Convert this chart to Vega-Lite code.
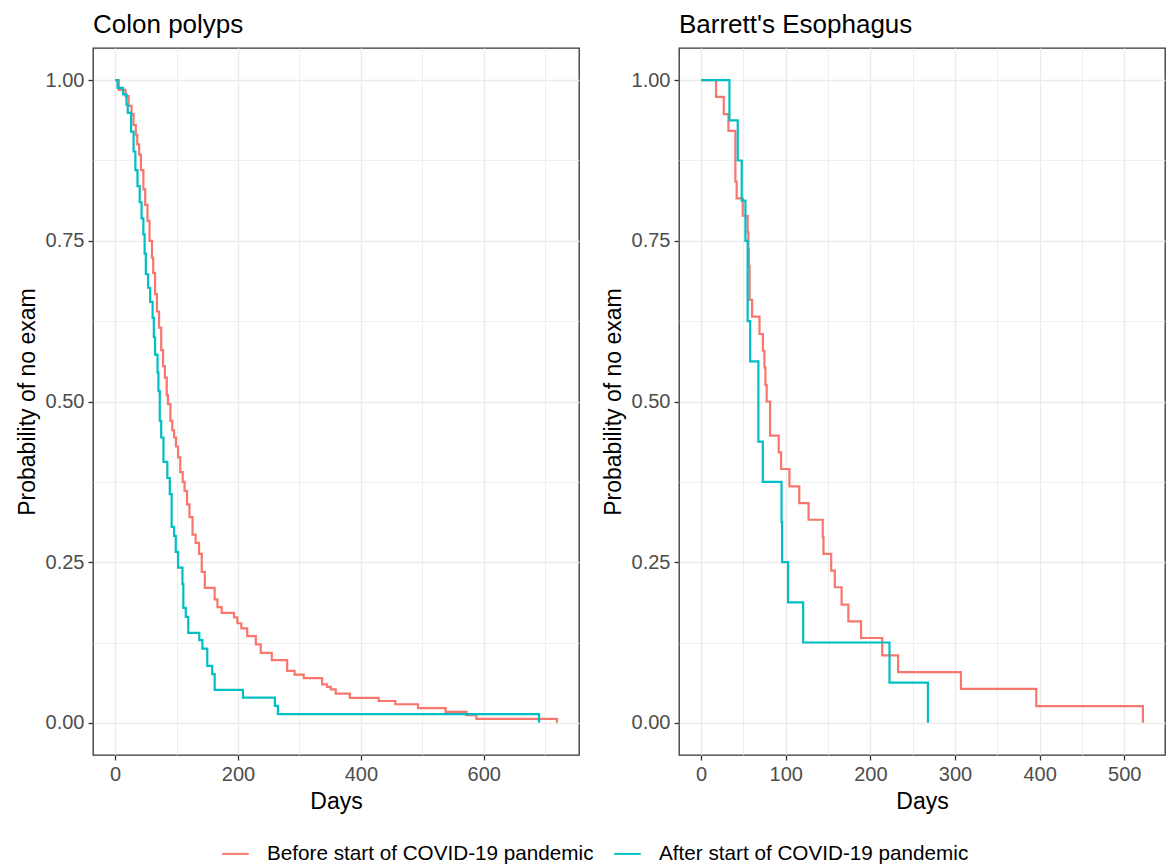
{
  "$schema": "https://vega.github.io/schema/vega-lite/v6.json",
  "background": "white",
  "padding": {"left": 15, "top": 11, "right": 2, "bottom": 4},
  "datasets": {
    "colon": [
      {"group": "Before start of COVID-19 pandemic", "day": 0, "surv": 1},
      {"group": "Before start of COVID-19 pandemic", "day": 6, "surv": 0.985},
      {"group": "Before start of COVID-19 pandemic", "day": 17, "surv": 0.975},
      {"group": "Before start of COVID-19 pandemic", "day": 22, "surv": 0.96},
      {"group": "Before start of COVID-19 pandemic", "day": 26.7, "surv": 0.947},
      {"group": "Before start of COVID-19 pandemic", "day": 30, "surv": 0.93},
      {"group": "Before start of COVID-19 pandemic", "day": 33.7, "surv": 0.915},
      {"group": "Before start of COVID-19 pandemic", "day": 36, "surv": 0.9},
      {"group": "Before start of COVID-19 pandemic", "day": 39, "surv": 0.884},
      {"group": "Before start of COVID-19 pandemic", "day": 42, "surv": 0.86},
      {"group": "Before start of COVID-19 pandemic", "day": 46, "surv": 0.83},
      {"group": "Before start of COVID-19 pandemic", "day": 49, "surv": 0.806},
      {"group": "Before start of COVID-19 pandemic", "day": 52.7, "surv": 0.781},
      {"group": "Before start of COVID-19 pandemic", "day": 56, "surv": 0.75},
      {"group": "Before start of COVID-19 pandemic", "day": 60, "surv": 0.724},
      {"group": "Before start of COVID-19 pandemic", "day": 62, "surv": 0.7},
      {"group": "Before start of COVID-19 pandemic", "day": 65, "surv": 0.667},
      {"group": "Before start of COVID-19 pandemic", "day": 68, "surv": 0.64},
      {"group": "Before start of COVID-19 pandemic", "day": 71.5, "surv": 0.615},
      {"group": "Before start of COVID-19 pandemic", "day": 75, "surv": 0.58},
      {"group": "Before start of COVID-19 pandemic", "day": 78, "surv": 0.555},
      {"group": "Before start of COVID-19 pandemic", "day": 81, "surv": 0.537},
      {"group": "Before start of COVID-19 pandemic", "day": 84, "surv": 0.51},
      {"group": "Before start of COVID-19 pandemic", "day": 86, "surv": 0.496},
      {"group": "Before start of COVID-19 pandemic", "day": 90, "surv": 0.47},
      {"group": "Before start of COVID-19 pandemic", "day": 93, "surv": 0.455},
      {"group": "Before start of COVID-19 pandemic", "day": 96, "surv": 0.444},
      {"group": "Before start of COVID-19 pandemic", "day": 99, "surv": 0.43},
      {"group": "Before start of COVID-19 pandemic", "day": 102.4, "surv": 0.413},
      {"group": "Before start of COVID-19 pandemic", "day": 106, "surv": 0.39},
      {"group": "Before start of COVID-19 pandemic", "day": 110, "surv": 0.375},
      {"group": "Before start of COVID-19 pandemic", "day": 113, "surv": 0.361},
      {"group": "Before start of COVID-19 pandemic", "day": 117, "surv": 0.34},
      {"group": "Before start of COVID-19 pandemic", "day": 121, "surv": 0.32},
      {"group": "Before start of COVID-19 pandemic", "day": 126, "surv": 0.293},
      {"group": "Before start of COVID-19 pandemic", "day": 131, "surv": 0.28},
      {"group": "Before start of COVID-19 pandemic", "day": 136.6, "surv": 0.263},
      {"group": "Before start of COVID-19 pandemic", "day": 141, "surv": 0.235},
      {"group": "Before start of COVID-19 pandemic", "day": 146, "surv": 0.21},
      {"group": "Before start of COVID-19 pandemic", "day": 162, "surv": 0.192},
      {"group": "Before start of COVID-19 pandemic", "day": 166.5, "surv": 0.18},
      {"group": "Before start of COVID-19 pandemic", "day": 173.5, "surv": 0.171},
      {"group": "Before start of COVID-19 pandemic", "day": 193.5, "surv": 0.164},
      {"group": "Before start of COVID-19 pandemic", "day": 199, "surv": 0.155},
      {"group": "Before start of COVID-19 pandemic", "day": 205.5, "surv": 0.147},
      {"group": "Before start of COVID-19 pandemic", "day": 215, "surv": 0.135},
      {"group": "Before start of COVID-19 pandemic", "day": 229, "surv": 0.122},
      {"group": "Before start of COVID-19 pandemic", "day": 237, "surv": 0.109},
      {"group": "Before start of COVID-19 pandemic", "day": 255, "surv": 0.0975},
      {"group": "Before start of COVID-19 pandemic", "day": 280, "surv": 0.081},
      {"group": "Before start of COVID-19 pandemic", "day": 292, "surv": 0.075},
      {"group": "Before start of COVID-19 pandemic", "day": 307, "surv": 0.0695},
      {"group": "Before start of COVID-19 pandemic", "day": 337, "surv": 0.06},
      {"group": "Before start of COVID-19 pandemic", "day": 345, "surv": 0.056},
      {"group": "Before start of COVID-19 pandemic", "day": 351, "surv": 0.052},
      {"group": "Before start of COVID-19 pandemic", "day": 359, "surv": 0.0456},
      {"group": "Before start of COVID-19 pandemic", "day": 382, "surv": 0.039},
      {"group": "Before start of COVID-19 pandemic", "day": 429, "surv": 0.034},
      {"group": "Before start of COVID-19 pandemic", "day": 456, "surv": 0.029},
      {"group": "Before start of COVID-19 pandemic", "day": 493, "surv": 0.0229},
      {"group": "Before start of COVID-19 pandemic", "day": 538, "surv": 0.017},
      {"group": "Before start of COVID-19 pandemic", "day": 572, "surv": 0.012},
      {"group": "Before start of COVID-19 pandemic", "day": 588, "surv": 0.0062},
      {"group": "Before start of COVID-19 pandemic", "day": 719, "surv": 0},
      {"group": "After start of COVID-19 pandemic", "day": 0, "surv": 1},
      {"group": "After start of COVID-19 pandemic", "day": 4, "surv": 0.988},
      {"group": "After start of COVID-19 pandemic", "day": 13, "surv": 0.978},
      {"group": "After start of COVID-19 pandemic", "day": 18.5, "surv": 0.962},
      {"group": "After start of COVID-19 pandemic", "day": 20.6, "surv": 0.949},
      {"group": "After start of COVID-19 pandemic", "day": 26, "surv": 0.92},
      {"group": "After start of COVID-19 pandemic", "day": 30, "surv": 0.889},
      {"group": "After start of COVID-19 pandemic", "day": 33, "surv": 0.86},
      {"group": "After start of COVID-19 pandemic", "day": 36.4, "surv": 0.835},
      {"group": "After start of COVID-19 pandemic", "day": 40, "surv": 0.81},
      {"group": "After start of COVID-19 pandemic", "day": 43, "surv": 0.785},
      {"group": "After start of COVID-19 pandemic", "day": 46, "surv": 0.76},
      {"group": "After start of COVID-19 pandemic", "day": 48, "surv": 0.73},
      {"group": "After start of COVID-19 pandemic", "day": 50, "surv": 0.698},
      {"group": "After start of COVID-19 pandemic", "day": 53.7, "surv": 0.677},
      {"group": "After start of COVID-19 pandemic", "day": 57, "surv": 0.655},
      {"group": "After start of COVID-19 pandemic", "day": 61, "surv": 0.63},
      {"group": "After start of COVID-19 pandemic", "day": 63, "surv": 0.6},
      {"group": "After start of COVID-19 pandemic", "day": 65, "surv": 0.573},
      {"group": "After start of COVID-19 pandemic", "day": 69, "surv": 0.545},
      {"group": "After start of COVID-19 pandemic", "day": 70.5, "surv": 0.516},
      {"group": "After start of COVID-19 pandemic", "day": 72.7, "surv": 0.47},
      {"group": "After start of COVID-19 pandemic", "day": 75, "surv": 0.444},
      {"group": "After start of COVID-19 pandemic", "day": 78.7, "surv": 0.406},
      {"group": "After start of COVID-19 pandemic", "day": 85, "surv": 0.381},
      {"group": "After start of COVID-19 pandemic", "day": 89, "surv": 0.356},
      {"group": "After start of COVID-19 pandemic", "day": 92, "surv": 0.305},
      {"group": "After start of COVID-19 pandemic", "day": 96, "surv": 0.291},
      {"group": "After start of COVID-19 pandemic", "day": 98.7, "surv": 0.266},
      {"group": "After start of COVID-19 pandemic", "day": 102.4, "surv": 0.2415},
      {"group": "After start of COVID-19 pandemic", "day": 109.6, "surv": 0.216},
      {"group": "After start of COVID-19 pandemic", "day": 111, "surv": 0.179},
      {"group": "After start of COVID-19 pandemic", "day": 115, "surv": 0.165},
      {"group": "After start of COVID-19 pandemic", "day": 119, "surv": 0.14},
      {"group": "After start of COVID-19 pandemic", "day": 137, "surv": 0.1286},
      {"group": "After start of COVID-19 pandemic", "day": 142, "surv": 0.1156},
      {"group": "After start of COVID-19 pandemic", "day": 150, "surv": 0.0886},
      {"group": "After start of COVID-19 pandemic", "day": 158, "surv": 0.0757},
      {"group": "After start of COVID-19 pandemic", "day": 162, "surv": 0.0513},
      {"group": "After start of COVID-19 pandemic", "day": 208, "surv": 0.0394},
      {"group": "After start of COVID-19 pandemic", "day": 260, "surv": 0.0264},
      {"group": "After start of COVID-19 pandemic", "day": 265, "surv": 0.0135},
      {"group": "After start of COVID-19 pandemic", "day": 690, "surv": 0}
    ],
    "barrett": [
      {"group": "Before start of COVID-19 pandemic", "day": 0, "surv": 1},
      {"group": "Before start of COVID-19 pandemic", "day": 17.7, "surv": 0.974},
      {"group": "Before start of COVID-19 pandemic", "day": 26.8, "surv": 0.947},
      {"group": "Before start of COVID-19 pandemic", "day": 32.3, "surv": 0.921},
      {"group": "Before start of COVID-19 pandemic", "day": 40.5, "surv": 0.842},
      {"group": "Before start of COVID-19 pandemic", "day": 42, "surv": 0.816},
      {"group": "Before start of COVID-19 pandemic", "day": 49.2, "surv": 0.789},
      {"group": "Before start of COVID-19 pandemic", "day": 55, "surv": 0.763},
      {"group": "Before start of COVID-19 pandemic", "day": 55.9, "surv": 0.737},
      {"group": "Before start of COVID-19 pandemic", "day": 56.5, "surv": 0.711},
      {"group": "Before start of COVID-19 pandemic", "day": 57.3, "surv": 0.658},
      {"group": "Before start of COVID-19 pandemic", "day": 60.3, "surv": 0.632},
      {"group": "Before start of COVID-19 pandemic", "day": 69, "surv": 0.605},
      {"group": "Before start of COVID-19 pandemic", "day": 73, "surv": 0.579},
      {"group": "Before start of COVID-19 pandemic", "day": 74.8, "surv": 0.553},
      {"group": "Before start of COVID-19 pandemic", "day": 76, "surv": 0.526},
      {"group": "Before start of COVID-19 pandemic", "day": 77.5, "surv": 0.5},
      {"group": "Before start of COVID-19 pandemic", "day": 81.5, "surv": 0.447},
      {"group": "Before start of COVID-19 pandemic", "day": 91.7, "surv": 0.421},
      {"group": "Before start of COVID-19 pandemic", "day": 94.5, "surv": 0.395},
      {"group": "Before start of COVID-19 pandemic", "day": 104.4, "surv": 0.368},
      {"group": "Before start of COVID-19 pandemic", "day": 116, "surv": 0.342},
      {"group": "Before start of COVID-19 pandemic", "day": 127, "surv": 0.316},
      {"group": "Before start of COVID-19 pandemic", "day": 143.7, "surv": 0.289},
      {"group": "Before start of COVID-19 pandemic", "day": 144.6, "surv": 0.263},
      {"group": "Before start of COVID-19 pandemic", "day": 153.7, "surv": 0.237},
      {"group": "Before start of COVID-19 pandemic", "day": 158, "surv": 0.211},
      {"group": "Before start of COVID-19 pandemic", "day": 166, "surv": 0.184},
      {"group": "Before start of COVID-19 pandemic", "day": 174, "surv": 0.158},
      {"group": "Before start of COVID-19 pandemic", "day": 189, "surv": 0.132},
      {"group": "Before start of COVID-19 pandemic", "day": 214, "surv": 0.105},
      {"group": "Before start of COVID-19 pandemic", "day": 232.8, "surv": 0.079},
      {"group": "Before start of COVID-19 pandemic", "day": 307, "surv": 0.053},
      {"group": "Before start of COVID-19 pandemic", "day": 396, "surv": 0.026},
      {"group": "Before start of COVID-19 pandemic", "day": 522, "surv": 0},
      {"group": "After start of COVID-19 pandemic", "day": 0, "surv": 1},
      {"group": "After start of COVID-19 pandemic", "day": 33.5, "surv": 0.9375},
      {"group": "After start of COVID-19 pandemic", "day": 43.3, "surv": 0.875},
      {"group": "After start of COVID-19 pandemic", "day": 48, "surv": 0.8125},
      {"group": "After start of COVID-19 pandemic", "day": 52.4, "surv": 0.75},
      {"group": "After start of COVID-19 pandemic", "day": 55, "surv": 0.625},
      {"group": "After start of COVID-19 pandemic", "day": 58, "surv": 0.5625},
      {"group": "After start of COVID-19 pandemic", "day": 67.7, "surv": 0.4375},
      {"group": "After start of COVID-19 pandemic", "day": 72.9, "surv": 0.375},
      {"group": "After start of COVID-19 pandemic", "day": 95, "surv": 0.3125},
      {"group": "After start of COVID-19 pandemic", "day": 95.7, "surv": 0.25},
      {"group": "After start of COVID-19 pandemic", "day": 102.8, "surv": 0.1875},
      {"group": "After start of COVID-19 pandemic", "day": 120.6, "surv": 0.125},
      {"group": "After start of COVID-19 pandemic", "day": 222.6, "surv": 0.0625},
      {"group": "After start of COVID-19 pandemic", "day": 268, "surv": 0}
    ]
  },
  "hconcat": [
    {
      "title": {"text": "Colon polyps", "frame": "group"},
      "width": 486,
      "height": 707,
      "data": {"name": "colon"},
      "mark": {"type": "line", "interpolate": "step-after", "strokeWidth": 2.2},
      "encoding": {
        "x": {
          "field": "day", "type": "quantitative",
          "scale": {"domain": [-36, 755], "nice": false, "zero": false},
          "axis": {
            "title": "Days",
            "values": [0, 100, 200, 300, 400, 500, 600, 700],
            "labelExpr": "datum.value % 200 === 0 ? datum.label : ''",
            "tickOpacity": {"condition": {"test": "datum.value % 200 !== 0", "value": 0}, "value": 1},
            "gridWidth": {"condition": {"test": "datum.value % 200 !== 0", "value": 0.8}, "value": 1.4}
          }
        },
        "y": {
          "field": "surv", "type": "quantitative",
          "scale": {"domain": [-0.05, 1.05], "nice": false, "zero": false},
          "axis": {
            "title": "Probability of no exam",
            "format": ".2f",
            "values": [0, 0.125, 0.25, 0.375, 0.5, 0.625, 0.75, 0.875, 1],
            "labelExpr": "datum.value % 0.25 === 0 ? datum.label : ''",
            "tickOpacity": {"condition": {"test": "datum.value % 0.25 !== 0", "value": 0}, "value": 1},
            "gridWidth": {"condition": {"test": "datum.value % 0.25 !== 0", "value": 0.8}, "value": 1.4}
          }
        },
        "color": {
          "field": "group", "type": "nominal",
          "scale": {"domain": ["Before start of COVID-19 pandemic", "After start of COVID-19 pandemic"], "range": ["#F8766D", "#00BFC4"]},
          "legend": {"orient": "none", "direction": "horizontal", "title": null, "legendX": 128, "legendY": 791}
        }
      }
    },
    {
      "title": {"text": "Barrett's Esophagus", "frame": "group"},
      "width": 486,
      "height": 707,
      "data": {"name": "barrett"},
      "mark": {"type": "line", "interpolate": "step-after", "strokeWidth": 2.2},
      "encoding": {
        "x": {
          "field": "day", "type": "quantitative",
          "scale": {"domain": [-26.1, 548.1], "nice": false, "zero": false},
          "axis": {
            "title": "Days",
            "values": [0, 50, 100, 150, 200, 250, 300, 350, 400, 450, 500],
            "labelExpr": "datum.value % 100 === 0 ? datum.label : ''",
            "tickOpacity": {"condition": {"test": "datum.value % 100 !== 0", "value": 0}, "value": 1},
            "gridWidth": {"condition": {"test": "datum.value % 100 !== 0", "value": 0.8}, "value": 1.4}
          }
        },
        "y": {
          "field": "surv", "type": "quantitative",
          "scale": {"domain": [-0.05, 1.05], "nice": false, "zero": false},
          "axis": {
            "title": "Probability of no exam",
            "format": ".2f",
            "values": [0, 0.125, 0.25, 0.375, 0.5, 0.625, 0.75, 0.875, 1],
            "labelExpr": "datum.value % 0.25 === 0 ? datum.label : ''",
            "tickOpacity": {"condition": {"test": "datum.value % 0.25 !== 0", "value": 0}, "value": 1},
            "gridWidth": {"condition": {"test": "datum.value % 0.25 !== 0", "value": 0.8}, "value": 1.4}
          }
        },
        "color": {
          "field": "group", "type": "nominal",
          "scale": {"domain": ["Before start of COVID-19 pandemic", "After start of COVID-19 pandemic"], "range": ["#F8766D", "#00BFC4"]},
          "legend": {"orient": "none", "direction": "horizontal", "title": null, "legendX": 128, "legendY": 791}
        }
      }
    }
  ],
  "spacing": 21,
  "resolve": {"scale": {"color": "shared"}, "legend": {"color": "shared"}},
  "config": {
    "font": "Liberation Sans",
    "view": {"stroke": "#333333", "strokeWidth": 1.3},
    "axis": {
      "labelFont": "Liberation Sans",
      "labelFontSize": 20,
      "labelColor": "#4D4D4D",
      "labelPadding": 4,
      "titleFont": "Liberation Sans",
      "titleFontSize": 23,
      "titleFontWeight": "normal",
      "titleColor": "#000000",
      "titlePadding": 6,
      "tickColor": "#333333",
      "tickSize": 5,
      "tickWidth": 1.3,
      "domain": false,
      "gridColor": "#EBEBEB"
    },
    "title": {"font": "Liberation Sans", "fontSize": 26, "fontWeight": "normal", "color": "#000000", "anchor": "start", "offset": 10},
    "legend": {
      "labelFont": "Liberation Sans",
      "labelFontSize": 20.7,
      "labelColor": "#000000",
      "labelLimit": 0,
      "symbolType": "stroke",
      "symbolStrokeWidth": 2,
      "symbolSize": 700,
      "labelOffset": 17,
      "columnPadding": 16
    }
  }
}
